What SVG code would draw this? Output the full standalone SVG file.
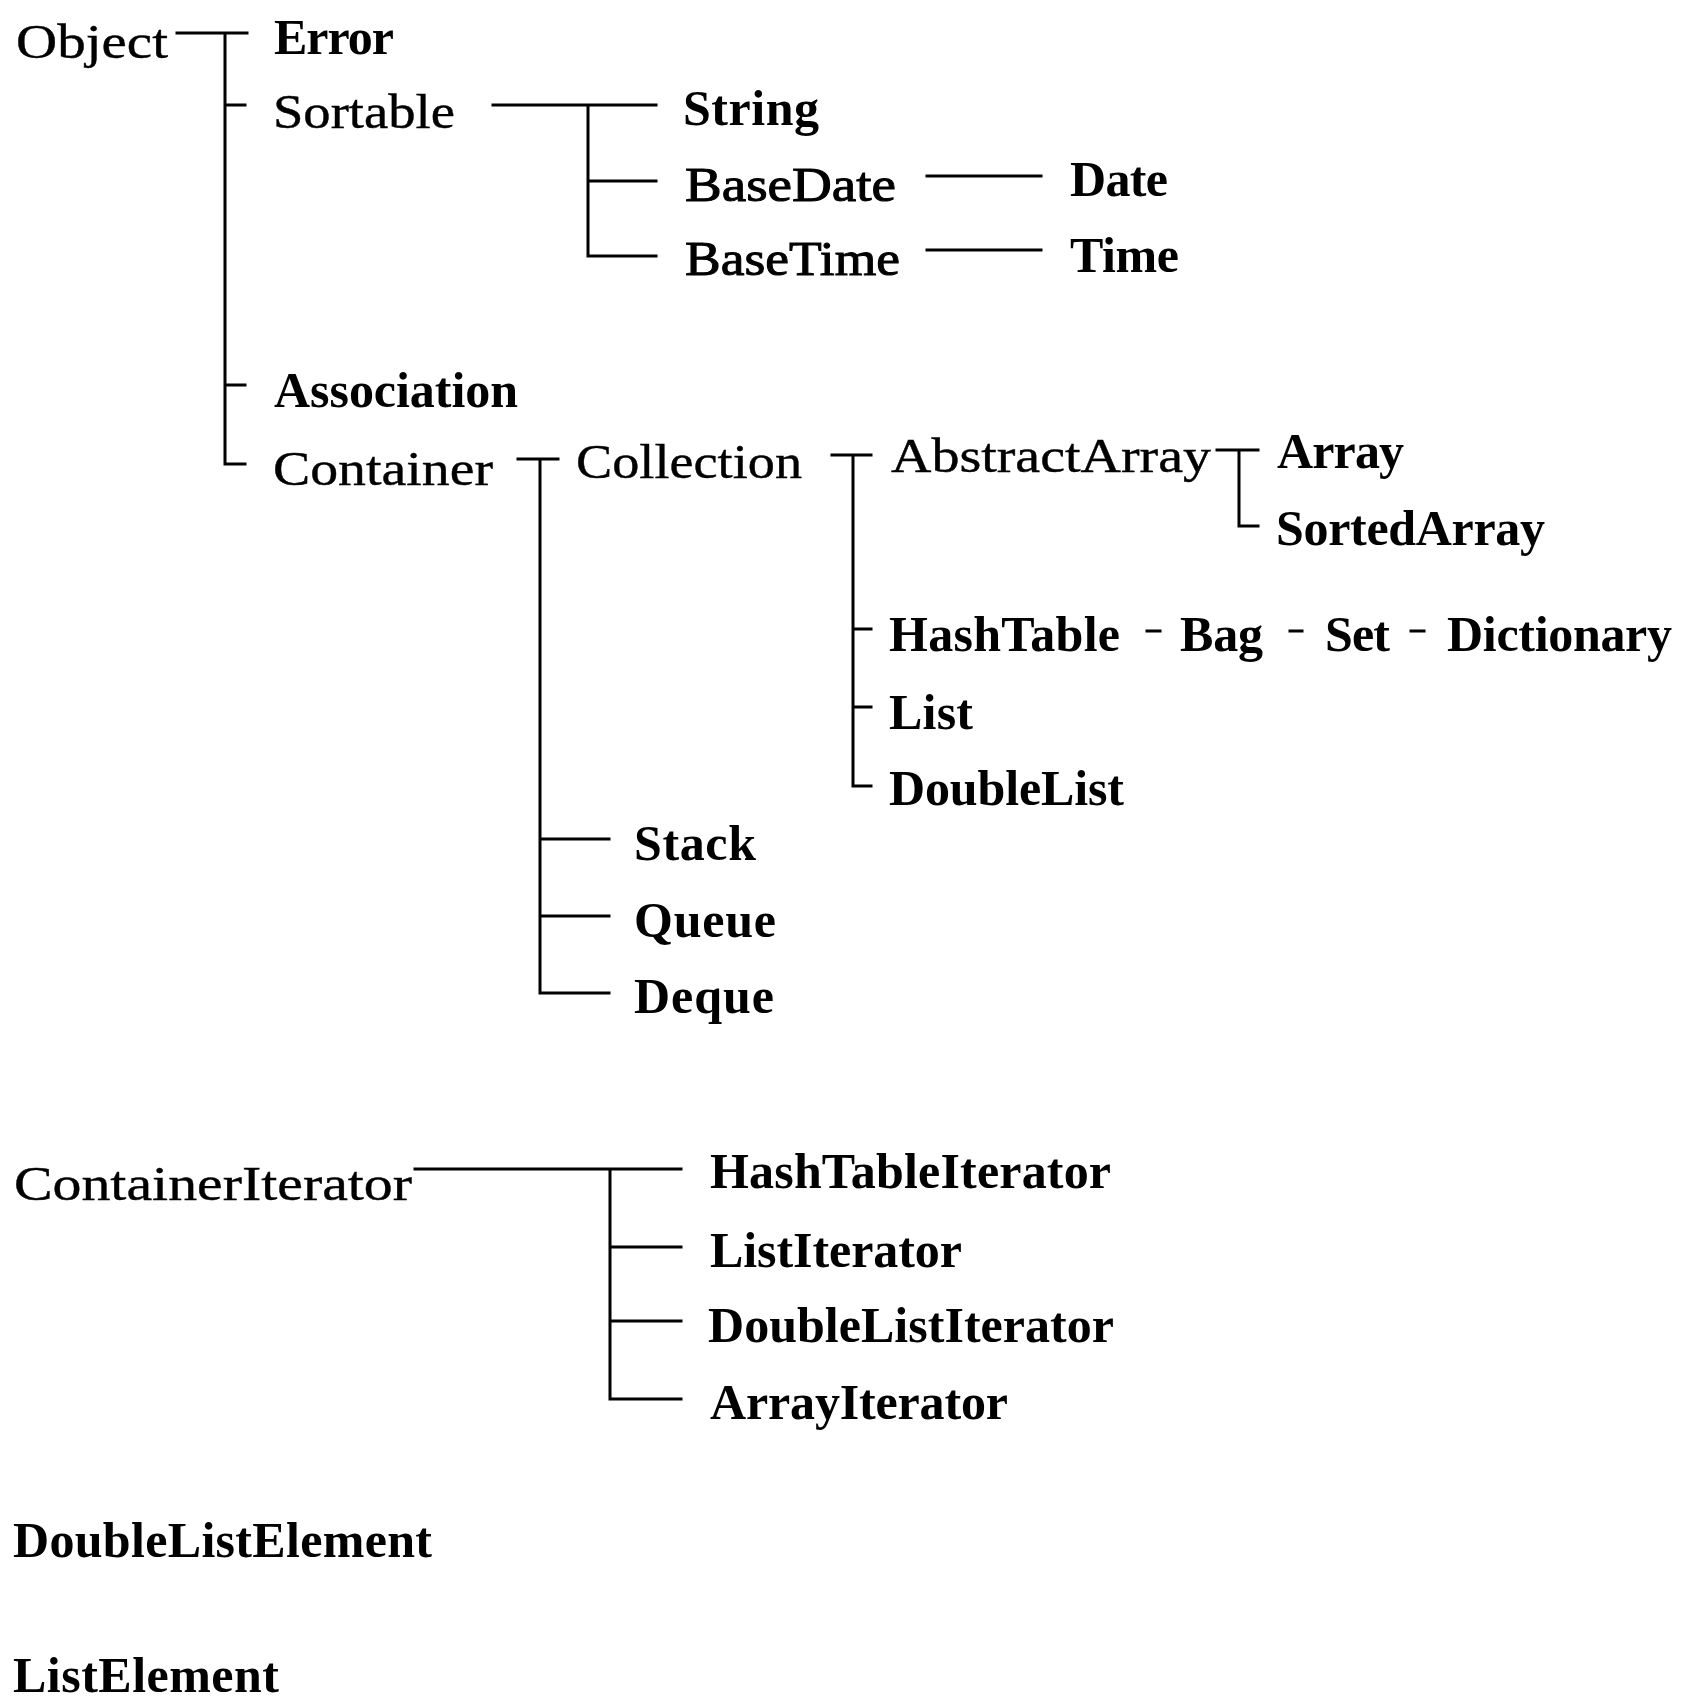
<svg xmlns="http://www.w3.org/2000/svg" width="1684" height="1700" viewBox="0 0 1684 1700">
  <style>
    .r { font-family: "Liberation Serif", "Times New Roman", serif; font-size: 48px; fill: #000; stroke: #000; stroke-width: 0.4px; }
    .m { font-family: "Liberation Serif", "Times New Roman", serif; font-size: 48px; fill: #000; stroke: #000; stroke-width: 1px; }
    .b { font-family: "Liberation Serif", "Times New Roman", serif; font-size: 50px; font-weight: bold; fill: #000; }
    .links path { fill: none; stroke: #000; stroke-width: 3; stroke-linecap: square; stroke-linejoin: miter; }
  </style>
  <rect width="1684" height="1700" fill="#fff"/>

  <!-- class hierarchy connectors -->
  <g class="links" id="connectors">
    <!-- Object -->
    <path d="M177,33 H247 M225,33 V464 H245 M225,105 H245 M225,385 H245"/>
    <!-- Sortable -->
    <path d="M493,105 H656 M588,105 V256 H656 M588,181 H656"/>
    <path d="M927,176 H1041 M927,250 H1041"/>
    <!-- Container -->
    <path d="M518,459 H558 M540,459 V993 H609 M540,839 H609 M540,916 H609"/>
    <!-- Collection -->
    <path d="M832,455 H871 M853,455 V786 H871 M853,629 H871 M853,707 H871"/>
    <!-- AbstractArray -->
    <path d="M1217,450 H1258 M1239,450 V526 H1258"/>
    <!-- HashTable - Bag - Set - Dictionary -->
    <path d="M1147,631 H1160 M1290,631 H1302 M1411,631 H1424"/>
    <!-- ContainerIterator -->
    <path d="M415,1169 H681 M610,1169 V1399 H681 M610,1247 H681 M610,1321 H681"/>
  </g>

  <g id="n-object"><text class="r" x="16" y="58" textLength="152" lengthAdjust="spacingAndGlyphs">Object</text></g>
  <g id="n-error"><text class="b" x="274" y="54" textLength="120">Error</text></g>
  <g id="n-sortable"><text class="r" x="273" y="128" textLength="182" lengthAdjust="spacingAndGlyphs">Sortable</text></g>
  <g id="n-string"><text class="b" x="683" y="125" textLength="136">String</text></g>
  <g id="n-basedate"><text class="m" x="685" y="201" textLength="211" lengthAdjust="spacingAndGlyphs">BaseDate</text></g>
  <g id="n-date"><text class="b" x="1070" y="196" textLength="98">Date</text></g>
  <g id="n-basetime"><text class="m" x="685" y="275" textLength="215" lengthAdjust="spacingAndGlyphs">BaseTime</text></g>
  <g id="n-time"><text class="b" x="1070" y="272" textLength="109">Time</text></g>
  <g id="n-association"><text class="b" x="274" y="407" textLength="244">Association</text></g>
  <g id="n-container"><text class="r" x="273" y="485" textLength="220" lengthAdjust="spacingAndGlyphs">Container</text></g>
  <g id="n-collection"><text class="r" x="576" y="478" textLength="226" lengthAdjust="spacingAndGlyphs">Collection</text></g>
  <g id="n-abstractarray"><text class="r" x="891" y="472" textLength="320" lengthAdjust="spacingAndGlyphs">AbstractArray</text></g>
  <g id="n-array"><text class="b" x="1277" y="468" textLength="127">Array</text></g>
  <g id="n-sortedarray"><text class="b" x="1276" y="545" textLength="269">SortedArray</text></g>
  <g id="n-hashtable"><text class="b" x="889" y="651" textLength="231">HashTable</text></g>
  <g id="n-bag"><text class="b" x="1180" y="651" textLength="83">Bag</text></g>
  <g id="n-set"><text class="b" x="1325" y="651" textLength="65">Set</text></g>
  <g id="n-dictionary"><text class="b" x="1447" y="651" textLength="225">Dictionary</text></g>
  <g id="n-list"><text class="b" x="889" y="729" textLength="84">List</text></g>
  <g id="n-doublelist"><text class="b" x="889" y="805" textLength="235">DoubleList</text></g>
  <g id="n-stack"><text class="b" x="634" y="860" textLength="122">Stack</text></g>
  <g id="n-queue"><text class="b" x="634" y="937" textLength="142">Queue</text></g>
  <g id="n-deque"><text class="b" x="634" y="1013" textLength="140">Deque</text></g>

  <g id="n-containeriterator"><text class="r" x="14" y="1200" textLength="398" lengthAdjust="spacingAndGlyphs">ContainerIterator</text></g>
  <g id="n-hashtableiterator"><text class="b" x="710" y="1188" textLength="401">HashTableIterator</text></g>
  <g id="n-listiterator"><text class="b" x="710" y="1267" textLength="252">ListIterator</text></g>
  <g id="n-doublelistiterator"><text class="b" x="708" y="1342" textLength="406">DoubleListIterator</text></g>
  <g id="n-arrayiterator"><text class="b" x="710" y="1419" textLength="298">ArrayIterator</text></g>

  <g id="n-doublelistelement"><text class="b" x="13" y="1557" textLength="419">DoubleListElement</text></g>
  <g id="n-listelement"><text class="b" x="13" y="1692" textLength="266">ListElement</text></g>
</svg>
